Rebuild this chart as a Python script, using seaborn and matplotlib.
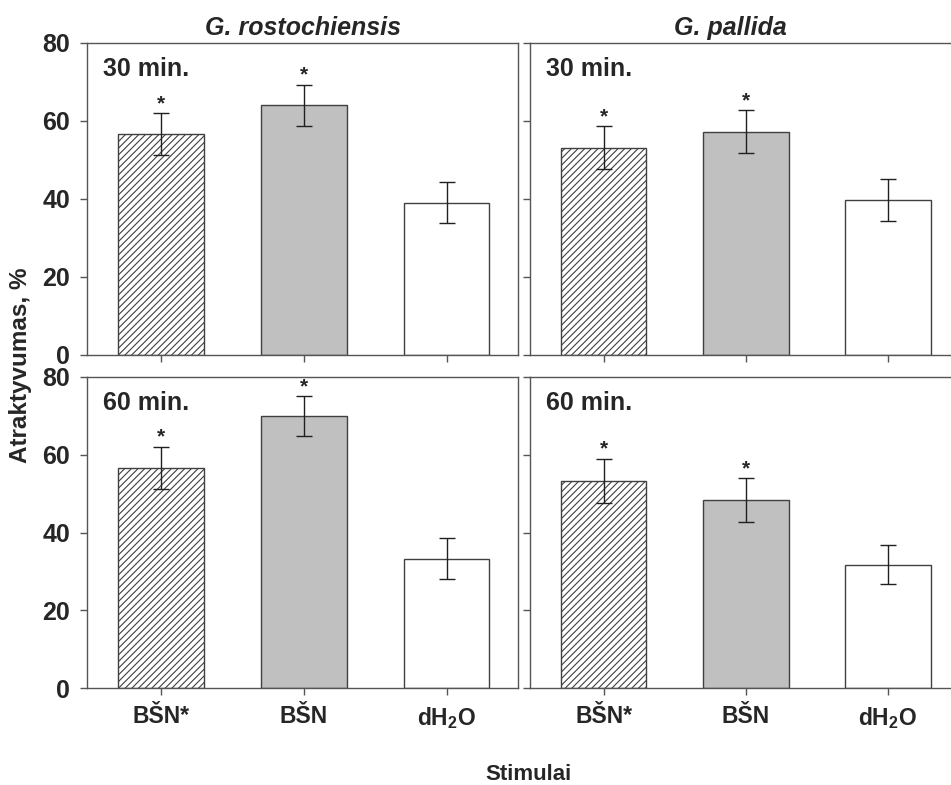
import matplotlib
matplotlib.use("Agg")
import matplotlib.pyplot as plt
import seaborn as sns
import pandas as pd

sns.set_theme(style="white")
plt.rcParams['font.family'] = ['Liberation Sans', 'DejaVu Sans']
plt.rcParams['mathtext.fontset'] = 'custom'
plt.rcParams['mathtext.rm'] = 'Liberation Sans'
plt.rcParams['mathtext.bf'] = 'Liberation Sans:bold'
plt.rcParams['hatch.color'] = '#555555'
plt.rcParams['hatch.linewidth'] = 0.8

categories = ["BŠN*", "BŠN", "dH$_\\mathbf{2}$O"]
species = ["G. rostochiensis", "G. pallida"]
times = ["30 min.", "60 min."]

ros_30 = [56.7, 64.0, 39.1]
ros_30_err = [5.3, 5.3, 5.3]
pal_30 = [53.1, 57.2, 39.7]
pal_30_err = [5.5, 5.5, 5.4]
ros_60 = [56.6, 69.9, 33.3]
ros_60_err = [5.4, 5.1, 5.3]
pal_60 = [53.3, 48.3, 31.7]
pal_60_err = [5.6, 5.6, 5.0]
significant = [True, True, False]

bar_colors = ["white", "#c0c0c0", "white"]
hatches = ["/////", "", ""]

panels = [[(ros_30, ros_30_err), (pal_30, pal_30_err)],
          [(ros_60, ros_60_err), (pal_60, pal_60_err)]]

W, H = 951, 785
fig = plt.figure(figsize=(W / 100, H / 100), dpi=100)

lefts = [87, 530]
widths = [431, 429]
tops = [43, 377]
heights = [312, 311]

edge = '#404040'
for r in range(2):
    for c in range(2):
        l = lefts[c] / W
        b = (H - tops[r] - heights[r]) / H
        ax = fig.add_axes([l, b, widths[c] / W, heights[r] / H])
        vals, errs = panels[r][c]
        df = pd.DataFrame({"cat": categories, "val": vals})
        sns.barplot(data=df, x="cat", y="val", hue="cat", palette=bar_colors,
                    legend=False, width=0.6, edgecolor=edge, linewidth=1.0,
                    ax=ax, errorbar=None)
        for p, h in zip(ax.patches, hatches):
            p.set_hatch(h)
        ax.errorbar(range(3), vals, yerr=errs, fmt='none', ecolor='#202020',
                    elinewidth=1.0, capsize=6, capthick=1.0)
        for i, (v, e, s) in enumerate(zip(vals, errs, significant)):
            if s:
                ax.annotate("*", xy=(i, v + e), xytext=(0, 3),
                            textcoords='offset points', ha='center',
                            va='baseline', fontsize=15, fontweight='bold')
        ax.set_xlim(-0.52, 2.5)
        ax.set_ylim(0, 80)
        ax.set_yticks([0, 20, 40, 60, 80])
        ax.set_xlabel("")
        ax.set_ylabel("")
        for sp in ax.spines.values():
            sp.set_color('#555555')
            sp.set_linewidth(1.0)
            sp.set_visible(True)
        ax.tick_params(axis='both', direction='out', length=5, width=1.0,
                       color='#555555', labelsize=18, pad=7)
        ax.tick_params(axis='both', which='both', bottom=True, left=True)
        if c == 1:
            ax.set_yticklabels([])
        else:
            ax.set_yticklabels(["0", "20", "40", "60", "80"], fontweight='bold')
        if r == 0:
            ax.set_xticklabels([])
        else:
            ax.set_xticks(range(3))
            ax.set_xticklabels(categories, fontweight='bold', fontsize=16.5)
            ax.tick_params(axis='x', pad=7)
        ax.text(0.038, 0.955, times[r], transform=ax.transAxes, ha='left',
                va='top', fontsize=18, fontweight='bold')

fig.text(303 / W, 1 - 28 / H, species[0], ha='center', va='center',
         fontsize=18, fontweight='bold', fontstyle='italic')
fig.text(730 / W, 1 - 28 / H, species[1], ha='center', va='center',
         fontsize=18, fontweight='bold', fontstyle='italic')
fig.text(21 / W, 1 - 365 / H, "Atraktyvumas, %", rotation=90, ha='center',
         va='center', fontsize=17.5, fontweight='bold')
fig.text(528 / W, 1 - 775 / H, "Stimulai", ha='center', va='center',
         fontsize=16, fontweight='bold')

fig.savefig("out.png", dpi=100)
